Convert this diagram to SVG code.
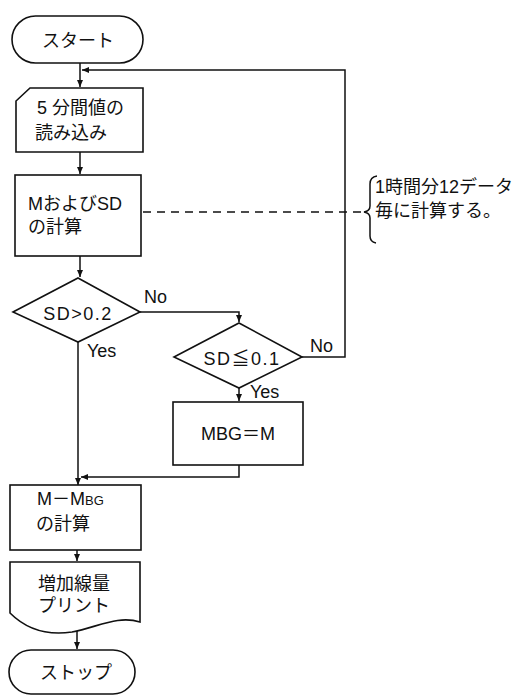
<svg xmlns="http://www.w3.org/2000/svg" width="514" height="695" viewBox="0 0 514 695">
<style>
.s{fill:#fff;stroke:#111;stroke-width:1.6}
.c{fill:none;stroke:#111;stroke-width:1.5}
.d{fill:none;stroke:#111;stroke-width:1.3;stroke-dasharray:8,6}
text{font-family:"Liberation Sans","Noto Sans CJK JP",sans-serif;font-size:18px;fill:#111}
.m{text-anchor:middle}
.w{letter-spacing:1.5px}
</style>
<defs>
<marker id="a" markerWidth="8" markerHeight="8" refX="7" refY="4" orient="auto" markerUnits="userSpaceOnUse">
<path d="M0,1 L7,4 L0,7 Z" fill="#111"/>
</marker>
</defs>
<rect width="514" height="695" fill="#fff"/>
<g id="connectors">
<path class="c" d="M80,63 V87" marker-end="url(#a)"/>
<path class="c" d="M302,357 H345 V70 H82" marker-end="url(#a)"/>
<path class="c" d="M80,152 V174" marker-end="url(#a)"/>
<path class="c" d="M80,256 V277" marker-end="url(#a)"/>
<path class="c" d="M140,312 H239 V322" marker-end="url(#a)"/>
<path class="c" d="M239,388 V401" marker-end="url(#a)"/>
<path class="c" d="M239,465 V477 H81" marker-end="url(#a)"/>
<path class="c" d="M78,342 V485" marker-end="url(#a)"/>
<path class="c" d="M77,550 V561" marker-end="url(#a)"/>
<path class="c" d="M77,630 V649" marker-end="url(#a)"/>
<path class="d" d="M143,212 H364"/>
<path class="c" d="M377,176 Q370,177 370,184 V206 Q370,211 364,212 Q370,213 370,218 V236 Q370,242 376,243"/>
</g>
<g id="start">
<rect class="s" x="12" y="16" width="131" height="47" rx="23.5"/>
<text class="m" x="78" y="47">スタート</text>
</g>
<g id="input">
<path class="s" d="M30,88 H143 V152 H16 V101 Z"/>
<text x="37" y="114">5 分間値の</text>
<text x="35" y="139">読み込み</text>
</g>
<g id="calc-msd">
<rect class="s" x="15" y="175" width="126" height="81"/>
<text x="28" y="210">MおよびSD</text>
<text x="28" y="233">の計算</text>
</g>
<g id="note">
<text x="375" y="193" font-size="17">1時間分12データ</text>
<text x="375" y="217" font-size="17">毎に計算する。</text>
</g>
<g id="dec1">
<path class="s" d="M78,278 L140,312 L78,342 L13,312 Z"/>
<text class="m w" x="78" y="320">SD&gt;0.2</text>
<text x="144" y="303">No</text>
<text x="87" y="357">Yes</text>
</g>
<g id="dec2">
<path class="s" d="M239,323 L302,357 L239,388 L174,357 Z"/>
<text class="m w" x="242" y="365">SD≦0.1</text>
<text x="310" y="352">No</text>
<text x="250" y="398">Yes</text>
</g>
<g id="mbg">
<rect class="s" x="173" y="402" width="130" height="63"/>
<text class="m" x="238" y="440">MBG＝M</text>
</g>
<g id="calc-diff">
<rect class="s" x="10" y="485" width="131" height="65"/>
<text x="37" y="505">M－M<tspan font-size="13">BG</tspan></text>
<text x="36" y="530">の計算</text>
</g>
<g id="print">
<path class="s" d="M10,562 H140 V622 C118,615 98,627 72,632 C45,636 25,628 10,613 Z"/>
<text x="38" y="590">増加線量</text>
<text x="38" y="612">プリント</text>
</g>
<g id="stop">
<rect class="s" x="9" y="650" width="126" height="44" rx="22"/>
<text class="m" x="76" y="679">ストップ</text>
</g>
</svg>
